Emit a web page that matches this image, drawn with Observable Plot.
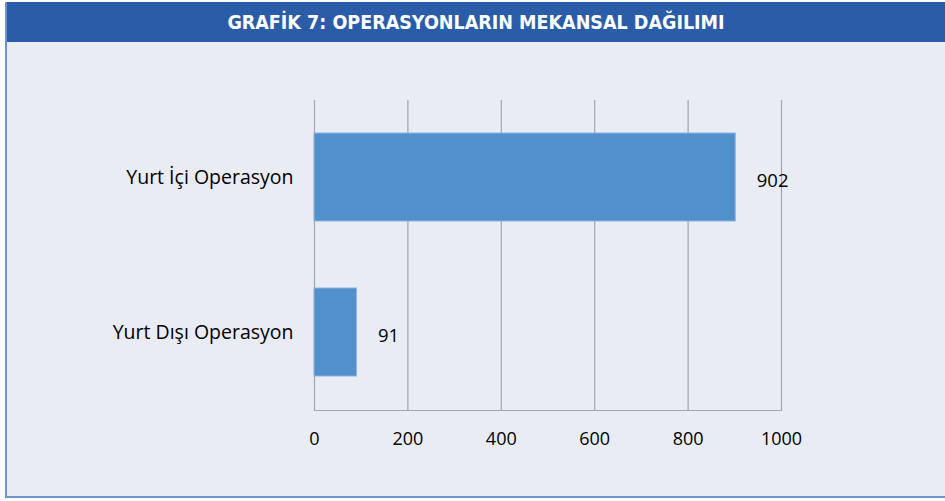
<!DOCTYPE html>
<html>
<head>
<meta charset="utf-8">
<script src="https://cdn.jsdelivr.net/npm/d3@7"></script>
<script src="https://cdn.jsdelivr.net/npm/@observablehq/plot@0.6"></script>
<style>
  html, body { margin: 0; padding: 0; background: #ffffff; }
  #panel {
    position: absolute; left: 5px; top: 2px; width: 938px; height: 494px;
    background: #e9ecf5; border-left: 2px solid #6f92cc; border-bottom: 2px solid #6f92cc;
  }
  #title {
    height: 40px; background: #2b5ca8; color: #ffffff;
    font-family: "Liberation Sans Narrow", "DejaVu Sans Condensed", sans-serif;
    font-stretch: condensed; font-weight: bold; font-size: 19.5px;
    display: flex; align-items: center; justify-content: center;
  }
  #chart svg { display: block; }
</style>
</head>
<body>
<div id="panel">
  <div id="title">GRAFİK 7: OPERASYONLARIN MEKANSAL DAĞILIMI</div>
  <div id="chart"></div>
</div>
<script>
const categories = ["Yurt İçi Operasyon", "Yurt Dışı Operasyon"];
const values = [902, 91];
const xTicks = [0, 200, 400, 600, 800, 1000];

const data = categories.map((c, i) => ({category: c, value: values[i]}));

const font = "'Open Sans', sans-serif";
const chart = Plot.plot({
  width: 938,
  height: 454,
  marginLeft: 307,
  marginRight: 164,
  marginTop: 58,
  marginBottom: 86,
  style: {background: "transparent", fontFamily: font, fontSize: "18px", color: "#000"},
  x: {domain: [0, 1000], ticks: xTicks, label: null},
  y: {domain: categories, paddingInner: 0.432, paddingOuter: 0.216, label: null},
  marks: [
    Plot.ruleX(xTicks, {stroke: "#a3a5ad", strokeWidth: 1.2, strokeOpacity: 1}),
    Plot.frame({anchor: "bottom", stroke: "#a3a5ad", strokeWidth: 1.2}),
    Plot.barX(data, {x: "value", y: "category", fill: "#5290cc", stroke: "#8db3e2", strokeWidth: 1}),
    Plot.text(data, {x: "value", y: "category", text: d => String(d.value), textAnchor: "start", dx: 21, dy: 4, fill: "#000", fontSize: 18.5}),
    Plot.axisX({ticks: xTicks, tickSize: 0, tickPadding: 22, fontSize: 18, label: null, tickFormat: d => String(d)}),
    Plot.axisY({tickSize: 0, tickPadding: 21, fontSize: 19.5, label: null})
  ]
});
document.getElementById("chart").appendChild(chart);
</script>
</body>
</html>
